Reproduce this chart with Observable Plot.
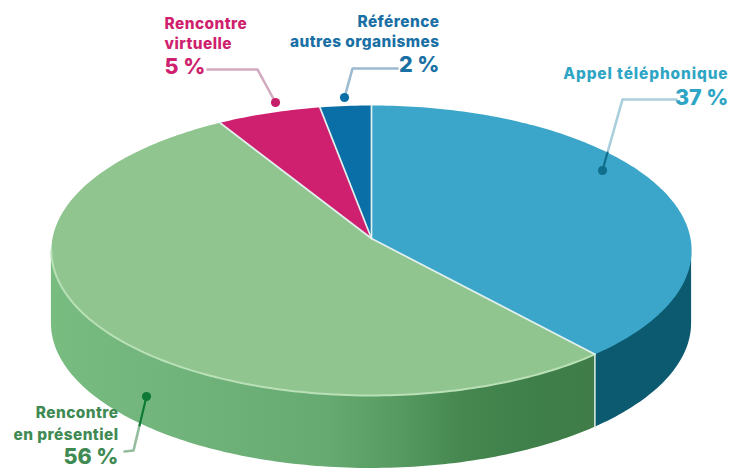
<!DOCTYPE html>
<html lang="fr">
<head>
<meta charset="utf-8">
<script src="https://cdn.jsdelivr.net/npm/d3@7"></script>
<script src="https://cdn.jsdelivr.net/npm/@observablehq/plot@0.6"></script>
<style>html,body{margin:0;padding:0;background:#fff}svg{display:block}</style>
</head>
<body>
<div id="chart"></div>
<script>
// Chart values
const categories = ["Appel téléphonique", "Rencontre en présentiel", "Rencontre virtuelle", "Référence autres organismes"];
const labelledPercent = [37, 56, 5, 2];      // printed on the chart
const drawnShare = [38.6, 52.9, 5.7, 2.8];   // sweep of each slice as measured on the picture
const nameLines = [["Appel téléphonique"], ["Rencontre", "en présentiel"], ["Rencontre", "virtuelle"], ["Référence", "autres organismes"]];

// Styles
const topColors = ["#3ba6c9", "#90c58f", "#cf1f6f", "#0a6fa6"];
const sideColors = ["#0b5a70", "url(#greenSide)", "#a3154f", "#07507a"];
const labelColors = ["#2fa5c6", "#3f8a52", "#cf1f6f", "#1a6fa5"];
const leaderPale = ["#a9cfdd", "#93bd9d", "#d3a9bf", "#9dbbd0"];
const dotColors = ["#0f6f8c", "#0f7a35", "#c41e68", "#0a6fa6"];
const greenSideStops = [[0, "#78bc80"], [0.145, "#74b77e"], [0.51, "#66aa72"], [0.64, "#569a62"], [0.75, "#468850"], [0.88, "#3f7f4a"], [1, "#3f7c48"]];

// Layout (pixels of the 729x468 frame)
const W = 729, H = 468;
const cx = 371, cy = 238, rx = 319, ry = 144, persp = 0.0827, depth = 73 / ry;
const toX = px => (px - cx) / rx, toY = py => (cy - py) / ry;
const nameFont = 15.4, pctFont = 21.5;
const textLayout = [
  {xpx: 728, anchor: "end", lines: [74], pct: 98, spacing: 0.9},
  {xpx: 118, anchor: "end", lines: [413, 435], pct: 457, spacing: 0.45},
  {xpx: 164, anchor: "start", lines: [24, 44], pct: 67, spacing: 0.45},
  {xpx: 439, anchor: "end", lines: [22, 42], pct: 65, spacing: 0.45}
];
const leaderLayout = [
  {pts: [[676, 99], [622, 99], [607, 152]], inner: [[607, 152], [602, 170]]},
  {pts: [[124, 451], [133, 450], [139, 425]], inner: [[139, 425], [146, 396]]},
  {pts: [[207, 69], [257, 69], [275, 102]], inner: []},
  {pts: [[397, 68], [352, 68], [344, 97]], inner: []}
];

// Perspective view of the unit disc: the centre sits above the ellipse's middle
function project(a) {
  const u = Math.sin(a), v = Math.cos(a), w = 1 + persp * v;
  return {x: u / w, y: v / w};
}
const arcs = d3.pie().sort(null).value(d => d)(drawnShare);
const step = Math.PI / 180;
const frontStart = Math.PI / 2 + 0.083, frontEnd = 3 * Math.PI / 2 - 0.083;
const angles = (a0, a1) => [...d3.range(a0, a1, step), a1];

const topRows = [], sideRows = [], rimRows = [], spokeRows = [], seamRows = [];
arcs.forEach((arc, i) => {
  topRows.push({i, x: 0, y: 0});
  angles(arc.startAngle, arc.endAngle).forEach(a => topRows.push({i, ...project(a)}));
  const a0 = Math.max(arc.startAngle, frontStart), a1 = Math.min(arc.endAngle, frontEnd);
  if (a1 > a0) angles(a0, a1).forEach(a => {
    const p = project(a);
    sideRows.push({i, x: p.x, y1: p.y, y2: p.y - depth});
    rimRows.push({i, ...p});
  });
  const p = project(arc.startAngle);
  spokeRows.push({i, x: 0, y: 0}, {i, ...p});
});
const seam = project(arcs[1].startAngle);
seamRows.push({x: seam.x, y: seam.y}, {x: seam.x, y: seam.y - depth});

const leaderRows = [], innerRows = [], dotRows = [];
leaderLayout.forEach((l, i) => {
  l.pts.forEach(([x, y]) => leaderRows.push({i, x: toX(x), y: toY(y)}));
  l.inner.forEach(([x, y]) => innerRows.push({i, x: toX(x), y: toY(y)}));
  const end = l.inner.length ? l.inner[l.inner.length - 1] : l.pts[l.pts.length - 1];
  dotRows.push({i, x: toX(end[0]), y: toY(end[1])});
});

function gradientDefs() {
  const svg = d3.create("svg:g");
  const g = svg.append("defs").append("linearGradient")
    .attr("id", "greenSide").attr("x1", 0).attr("x2", 1).attr("y1", 0).attr("y2", 0);
  greenSideStops.forEach(([o, c]) => g.append("stop").attr("offset", o).attr("stop-color", c));
  return svg.node();
}
// One text mark per label line; letter-spacing is applied to the mark's group
const textMark = (s, i, xpx, ypx, anchor, size, spacing) => Plot.text([{s, x: toX(xpx), y: toY(ypx)}], {
  x: "x", y: "y", text: "s", fill: labelColors[i],
  textAnchor: anchor, lineAnchor: "middle",
  fontFamily: "Inter", fontWeight: 800, fontSize: size,
  render(index, scales, values, dimensions, context, next) {
    const g = next(index, scales, values, dimensions, context);
    g.style.letterSpacing = `${spacing}px`;
    return g;
  }
});
const textMarks = textLayout.flatMap((t, i) => [
  ...nameLines[i].map((s, k) => textMark(s, i, t.xpx, t.lines[k], t.anchor, nameFont, t.spacing)),
  textMark(`${labelledPercent[i]} %`, i, t.xpx, t.pct, t.anchor, pctFont, 0)
]);

const chart = Plot.plot({
  width: W, height: H, margin: 0,
  x: {domain: [toX(0), toX(W)], range: [0, W], axis: null},
  y: {domain: [toY(0), toY(H)], range: [0, H], axis: null},
  color: {type: "identity"},
  style: {background: "#fff", overflow: "visible"},
  marks: [
    gradientDefs,
    ...arcs.map((_, i) => Plot.area(sideRows.filter(d => d.i === i), {x1: "x", y1: "y1", y2: "y2", fill: sideColors[i]})),
    Plot.line(seamRows, {x: "x", y: "y", stroke: "#d5e6dc", strokeWidth: 1.6}),
    ...arcs.map((_, i) => Plot.line(topRows.filter(d => d.i === i), {x: "x", y: "y", fill: topColors[i], stroke: "none", curve: "linear"})),
    Plot.line(rimRows.filter(d => d.i === 1), {x: "x", y: "y", stroke: "#b9e0b6", strokeWidth: 2}),
    Plot.line(spokeRows, {x: "x", y: "y", z: "i", stroke: "#e2f0ee", strokeWidth: 1.7}),
    Plot.line(leaderRows, {x: "x", y: "y", z: "i", stroke: d => leaderPale[d.i], strokeWidth: 2.6, strokeLinejoin: "round"}),
    Plot.line(innerRows, {x: "x", y: "y", z: "i", stroke: d => dotColors[d.i], strokeWidth: 2.2}),
    Plot.dot(dotRows, {x: "x", y: "y", r: 4.6, fill: d => dotColors[d.i], stroke: "none"}),
    ...textMarks
  ]
});
document.getElementById("chart").append(chart);
</script>
</body>
</html>
